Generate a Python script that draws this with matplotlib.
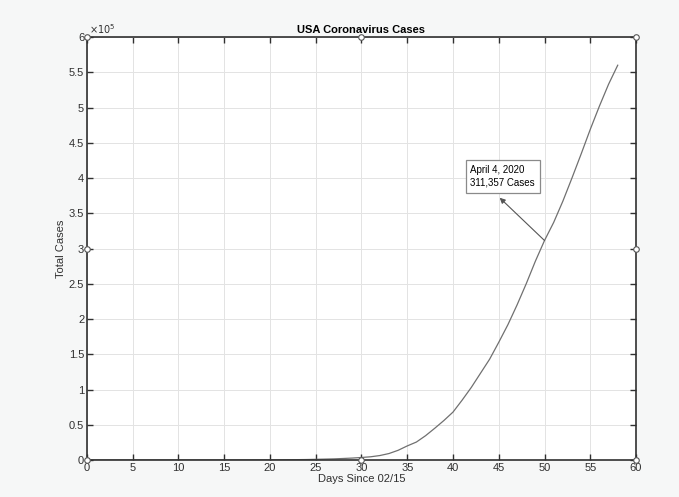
import numpy as np
import matplotlib
matplotlib.use('Agg')
import matplotlib.pyplot as plt
from matplotlib.ticker import FuncFormatter

# Days since 02/15 and cumulative US cases
days = list(range(0, 59))
cases = [13, 15, 15, 15, 15, 15, 15, 35, 35, 35, 53, 53, 59, 60, 62, 68,
         75, 100, 124, 158, 221, 319, 435, 541, 704, 994, 1301, 1630, 2183, 2770,
         3613, 4596, 6344, 9197, 13779, 20000, 25500, 34500, 45000, 56000, 68000,
         85000, 103000, 123000, 143000, 167000, 192000, 220000, 250000, 282000, 311357,
         337000, 367000, 400000, 434000, 469000, 502000, 533000, 560000]

x_ticks = list(range(0, 61, 5))
y_ticks = [v * 50000 for v in range(0, 13)]
handle_x = [0, 30, 60, 60, 60, 30, 0, 0]
handle_y = [0, 0, 0, 300000, 600000, 600000, 600000, 300000]

note_day = 50
note_cases = 311357
note_text = "April 4, 2020\n311,357 Cases"

plt.rcParams['font.family'] = ['Liberation Sans', 'DejaVu Sans']
text_size = 8
axis_color = '#303030'

fig = plt.figure(figsize=(6.79, 4.97), dpi=100)
fig.patch.set_facecolor('#f6f7f7')
ax = fig.add_axes([0.1281, 0.0744, 0.8086, 0.8511])
ax.set_facecolor('white')

ax.plot(days, cases, color='#707070', linewidth=0.9)

ax.set_xlim(0, 60)
ax.set_ylim(0, 600000)
ax.set_xticks(x_ticks)
ax.set_yticks(y_ticks)
ax.yaxis.set_major_formatter(FuncFormatter(lambda v, p: f'{v / 1e5:g}'))
ax.tick_params(direction='in', length=4, width=1.0, colors=axis_color,
               labelsize=text_size, top=True, right=True, pad=2)
for s in ax.spines.values():
    s.set_color(axis_color)
    s.set_linewidth(1.2)
ax.grid(True, color='#e3e3e3', linewidth=0.7)
ax.set_axisbelow(True)

ax.text(0.2, 601000, r'$\times10^5$', fontsize=7, color=axis_color,
        ha='left', va='bottom')

# selection handles like the MATLAB figure
ax.plot(handle_x, handle_y, linestyle='none', marker='o', markersize=4,
        markerfacecolor='white', markeredgecolor='#555555', markeredgewidth=0.8,
        clip_on=False, zorder=5)

ax.set_title('USA Coronavirus Cases', fontsize=8, fontweight='bold', pad=3,
             color='black')
ax.set_xlabel('Days Since 02/15', fontsize=text_size, color=axis_color, labelpad=1)
ax.set_ylabel('Total Cases', fontsize=text_size, color=axis_color, labelpad=2)

# annotation text box with arrow pointing from the curve to the box
ax.text(41.9, 418000, note_text, fontsize=7, va='top', ha='left', linespacing=1.3,
        bbox=dict(boxstyle='square,pad=0.5', facecolor='white',
                  edgecolor='#8a8a8a', linewidth=0.9))
ax.annotate('', xy=(45.1, 372000), xytext=(note_day, note_cases),
            arrowprops=dict(arrowstyle='-|>', color='#555555', lw=0.8,
                            mutation_scale=8, shrinkA=0, shrinkB=0))

plt.savefig('out.png', dpi=100, facecolor=fig.get_facecolor())
plt.close()
